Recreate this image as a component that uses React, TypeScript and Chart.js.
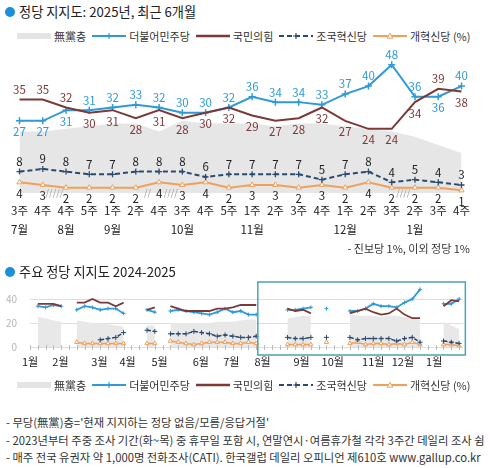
import React, { useEffect, useRef } from 'react';
import { Chart, registerables } from 'chart.js';

Chart.register(...registerables);

const FONT = '"Noto Sans CJK KR", "Noto Sans", sans-serif';
const COLORS = {
  noParty: '#e6e6e6',
  dem: '#2e9ad8',
  ppp: '#7d3838',
  rebuild: '#2c4a70',
  reform: '#f0a05a',
  text: '#222',
};

// ---------- Top chart: last 6 months ----------
const weekLabels = ['3주', '4주', '4주', '5주', '1주', '2주', '4주', '3주', '4주', '5주', '1주', '2주', '3주', '4주', '1주', '2주', '3주', '2주', '3주', '4주'];
const monthLabels = ['7월', '', '8월', '', '9월', '', '', '10월', '', '', '11월', '', '', '', '12월', '', '', '1월', '', ''];
const noPartyRecent = [23, 23, 24, 25, 26, 26, 23, 27, 26, 26, 26, 25, 26, 26, 25, 24, 23, 21, 18, 15];
const demRecent = [27, 27, 31, 31, 32, 33, 32, 30, 30, 32, 36, 34, 34, 33, 37, 40, 48, 36, 36, 40];
const pppRecent = [35, 35, 32, 30, 31, 28, 31, 28, 30, 32, 29, 27, 28, 32, 27, 24, 24, 34, 39, 38];
const rebuildRecent = [8, 9, 8, 7, 7, 8, 8, 8, 6, 7, 7, 7, 7, 5, 7, 8, 4, 5, 4, 3];
const reformRecent = [4, 3, 2, 2, 2, 2, 4, 3, 4, 2, 3, 3, 2, 3, 2, 4, 2, 2, 2, 1];
const gapAfter = [1, 5, 6, 16];
const gapText = ['/////', '//', '////', '////'];

// ---------- Bottom chart: 2024-2025 weekly ----------
const earlyNoParty = [null, 25, 24, 22, 21, null, 22, 21, 20, 20, 19, 18, 17, null, null, 18, 18, null, 20, 20, 20, 20, 20, 20, 21, 21, 21, 22];
const earlyDem = [null, 34, 33, 35, 34, null, 31, 34, 33, 31, 32, 32, 28, null, null, 31, 29, null, 30, 31, 30, 29, 28, 27, 29, 32, 29, 30];
const earlyPpp = [null, 36, 36, 36, 34, null, 37, 37, 40, 37, 37, 34, 37, null, null, 31, 33, null, 34, 32, 30, 30, 30, 30, 32, 32, 33, 35];
const earlyRebuild = [null, null, null, null, null, null, null, null, null, 6, 7, 8, 12, null, null, 14, 13, null, 11, 11, 11, 13, 12, 11, 9, 10, 9, 8];
const earlyReform = [null, null, null, null, null, null, 4, 3, 3, 3, 3, 3, 3, null, null, 3, 3, null, 5, 4, 3, 2, 3, 4, 4, 4, 3, 3];
const recentWeekNumbers = [28, 29, 33, 34, 35, 36, 38, 41, 42, 43, 44, 45, 46, 47, 48, 49, 50, 53, 54, 55];
const monthTickWeeks = [0, 3.9, 8.9, 12.5, 16.6, 21.9, 25.8, 29.8, 34.8, 38.8, 44, 47.8, 51.8];
const monthTickLabels = ['1월', '2월', '3월', '4월', '5월', '6월', '7월', '8월', '9월', '10월', '11월', '12월', '1월'];
const yGridValues = [0, 20, 40];
const highlightWeeks = [29.2, 55.8];

const legendLabels = ['無黨층', '더불어민주당', '국민의힘', '조국혁신당', '개혁신당 (%)'];
const footnotes = [
  "- 무당(無黨)층='현재 지지하는 정당 없음/모름/응답거절'",
  '- 2023년부터 주중 조사 기간(화~목) 중 휴무일 포함 시, 연말연시·여름휴가철 각각 3주간 데일리 조사 쉼',
  '- 매주 전국 유권자 약 1,000명 전화조사(CATI). 한국갤럽 데일리 오피니언 제610호 www.gallup.co.kr',
];

const LAST_WEEK = recentWeekNumbers[recentWeekNumbers.length - 1];

function weekly(early: (number | null)[], recent: number[]) {
  const out: { x: number; y: number | null }[] = [];
  for (let w = 0; w <= LAST_WEEK; w++) out.push({ x: w, y: null });
  early.forEach((v, i) => { out[i].y = v; });
  recent.forEach((v, i) => { out[recentWeekNumbers[i]].y = v; });
  return out;
}

const topLabelsPlugin = {
  id: 'topLabels',
  afterDatasetsDraw(chart: any) {
    const { ctx, chartArea, scales } = chart;
    const x = scales.x, y = scales.y;
    ctx.save();
    ctx.textAlign = 'center';
    ctx.textBaseline = 'middle';
    ctx.font = `11.5px ${FONT}`;
    const lab = (v: number, i: number, above: boolean, color: string) => {
      const px = x.getPixelForValue(i);
      const py = y.getPixelForValue(v);
      ctx.fillStyle = color;
      ctx.fillText(String(v), px, above ? py - 10 : py + 11);
    };
    for (let i = 0; i < weekLabels.length; i++) {
      const demAbove = demRecent[i] >= pppRecent[i];
      lab(demRecent[i], i, demAbove, COLORS.dem);
      lab(pppRecent[i], i, !demAbove, COLORS.ppp);
      lab(rebuildRecent[i], i, true, COLORS.text);
      lab(reformRecent[i], i, false, COLORS.text);
    }
    ctx.fillStyle = COLORS.text;
    weekLabels.forEach((t, i) => ctx.fillText(t, x.getPixelForValue(i), chartArea.bottom + 18));
    monthLabels.forEach((t, i) => { if (t) ctx.fillText(t, x.getPixelForValue(i), chartArea.bottom + 37); });
    ctx.font = `9px ${FONT}`;
    ctx.fillStyle = '#9a9a9a';
    gapAfter.forEach((a, k) => {
      const px = (x.getPixelForValue(a) + x.getPixelForValue(a + 1)) / 2;
      ctx.fillText(gapText[k], px, y.getPixelForValue(0));
    });
    ctx.restore();
  },
};

const bottomPlugin = {
  id: 'bottomDecor',
  beforeDatasetsDraw(chart: any) {
    const { ctx, chartArea, scales } = chart;
    const y = scales.y;
    ctx.save();
    ctx.strokeStyle = '#dddddd';
    ctx.lineWidth = 1;
    yGridValues.forEach((v) => {
      const py = Math.round(y.getPixelForValue(v)) + 0.5;
      ctx.beginPath();
      ctx.moveTo(chartArea.left, py);
      ctx.lineTo(chartArea.right, py);
      ctx.stroke();
    });
    ctx.restore();
  },
  afterDraw(chart: any) {
    const { ctx, chartArea, scales } = chart;
    const x = scales.x, y = scales.y;
    ctx.save();
    ctx.strokeStyle = '#bbbbbb';
    ctx.lineWidth = 1;
    for (let w = 0; w <= LAST_WEEK; w++) {
      const px = Math.round(x.getPixelForValue(w)) + 0.5;
      ctx.beginPath();
      ctx.moveTo(px, chartArea.bottom - 2);
      ctx.lineTo(px, chartArea.bottom + 3);
      ctx.stroke();
    }
    ctx.font = `10px ${FONT}`;
    ctx.fillStyle = '#b5b5b5';
    ctx.textAlign = 'right';
    ctx.textBaseline = 'middle';
    yGridValues.forEach((v) => ctx.fillText(String(v), chartArea.left - 13, y.getPixelForValue(v)));
    ctx.font = `11px ${FONT}`;
    ctx.fillStyle = COLORS.text;
    ctx.textAlign = 'center';
    monthTickWeeks.forEach((w, i) => ctx.fillText(monthTickLabels[i], x.getPixelForValue(w), chartArea.bottom + 15));
    ctx.strokeStyle = '#4aa5ad';
    ctx.lineWidth = 1.5;
    const l = x.getPixelForValue(highlightWeeks[0]);
    const r = x.getPixelForValue(highlightWeeks[1]);
    ctx.strokeRect(l, chartArea.top - 5, r - l, chartArea.bottom - chartArea.top + 13);
    ctx.restore();
  },
};

function TopChart() {
  const ref = useRef<HTMLCanvasElement>(null);
  useEffect(() => {
    const chart = new Chart(ref.current as HTMLCanvasElement, {
      type: 'line',
      data: {
        labels: weekLabels,
        datasets: [
          { label: legendLabels[0], data: noPartyRecent, fill: 'origin', backgroundColor: COLORS.noParty, borderColor: 'transparent', borderWidth: 0, pointRadius: 0, order: 10 },
          { label: legendLabels[1], data: demRecent, borderColor: COLORS.dem, borderWidth: 2, pointStyle: 'cross', pointRadius: 3.5, pointBorderColor: COLORS.dem, pointBorderWidth: 1.5, fill: false, order: 2 },
          { label: legendLabels[2], data: pppRecent, borderColor: COLORS.ppp, borderWidth: 2, pointRadius: 0, fill: false, order: 1 },
          { label: legendLabels[3], data: rebuildRecent, borderColor: COLORS.rebuild, borderDash: [5, 3], borderWidth: 2, pointStyle: 'cross', pointRadius: 3, pointBorderColor: COLORS.rebuild, pointBorderWidth: 1.3, fill: false, order: 3 },
          { label: legendLabels[4], data: reformRecent, borderColor: COLORS.reform, borderWidth: 2, pointStyle: 'triangle', pointRadius: 3, pointBackgroundColor: '#ffffff', pointBorderColor: COLORS.reform, pointBorderWidth: 1, fill: false, order: 4 },
        ] as any,
      },
      options: {
        animation: false,
        responsive: false,
        events: [],
        layout: { padding: { left: 19.5, right: 28.5, top: 6, bottom: 62 }, autoPadding: false } as any,
        scales: {
          x: { type: 'category', display: false, offset: false },
          y: { display: false, min: 0, max: 55 },
        },
        plugins: { legend: { display: false }, tooltip: { enabled: false } },
        elements: { line: { tension: 0 } },
      },
      plugins: [topLabelsPlugin],
    });
    return () => chart.destroy();
  }, []);
  return <canvas ref={ref} width={490} height={215} style={{ position: 'absolute', left: 0, top: 40 }} />;
}

function BottomChart() {
  const ref = useRef<HTMLCanvasElement>(null);
  useEffect(() => {
    const common = { fill: false, spanGaps: false, clip: false as any };
    const chart = new Chart(ref.current as HTMLCanvasElement, {
      type: 'line',
      data: {
        datasets: [
          { label: legendLabels[0], data: weekly(earlyNoParty, noPartyRecent), fill: 'origin', spanGaps: false, backgroundColor: '#e8e8e8', borderColor: 'transparent', borderWidth: 0, pointRadius: 0, order: 10 },
          { ...common, label: legendLabels[1], data: weekly(earlyDem, demRecent), borderColor: COLORS.dem, borderWidth: 1.8, pointStyle: 'cross', pointRadius: 2, pointBorderColor: COLORS.dem, pointBorderWidth: 1, order: 2 },
          { ...common, label: legendLabels[2], data: weekly(earlyPpp, pppRecent), borderColor: COLORS.ppp, borderWidth: 1.8, pointRadius: 0, order: 1 },
          { ...common, label: legendLabels[3], data: weekly(earlyRebuild, rebuildRecent), borderColor: COLORS.rebuild, borderDash: [4, 2], borderWidth: 1.5, pointStyle: 'cross', pointRadius: 2.5, pointBorderColor: COLORS.rebuild, pointBorderWidth: 1, order: 3 },
          { ...common, label: legendLabels[4], data: weekly(earlyReform, reformRecent), borderColor: COLORS.reform, borderWidth: 1.5, pointStyle: 'triangle', pointRadius: 2.5, pointBackgroundColor: '#ffffff', pointBorderColor: COLORS.reform, pointBorderWidth: 1, order: 4 },
        ] as any,
      },
      options: {
        animation: false,
        responsive: false,
        events: [],
        layout: { padding: { left: 30, right: 27, top: 7, bottom: 25 }, autoPadding: false } as any,
        scales: {
          x: { type: 'linear', display: false, min: 0, max: LAST_WEEK + 0.5 },
          y: { display: false, min: 0, max: 50 },
        },
        plugins: { legend: { display: false }, tooltip: { enabled: false } },
        elements: { line: { tension: 0 } },
      },
      plugins: [bottomPlugin],
    });
    return () => chart.destroy();
  }, []);
  return <canvas ref={ref} width={490} height={92} style={{ position: 'absolute', left: 0, top: 280 }} />;
}

function Swatch({ kind }: { kind: number }) {
  const W = 34;
  if (kind === 0) {
    return <svg width={W} height={10}><rect x={0} y={2} width={W} height={6} fill="#e4e4e4" /></svg>;
  }
  if (kind === 1) {
    return (
      <svg width={W} height={10}>
        <line x1={0} y1={5} x2={W} y2={5} stroke={COLORS.dem} strokeWidth={2} />
        <path d="M17 2 V8 M14 5 H20" stroke={COLORS.dem} strokeWidth={1.2} />
      </svg>
    );
  }
  if (kind === 2) {
    return <svg width={W} height={10}><line x1={0} y1={5} x2={W} y2={5} stroke={COLORS.ppp} strokeWidth={2.4} /></svg>;
  }
  if (kind === 3) {
    return (
      <svg width={W} height={10}>
        <line x1={0} y1={5} x2={W} y2={5} stroke={COLORS.rebuild} strokeWidth={2} strokeDasharray="5,3" />
        <path d="M17 2 V8 M14 5 H20" stroke={COLORS.rebuild} strokeWidth={1.2} />
      </svg>
    );
  }
  return (
    <svg width={W} height={10}>
      <line x1={0} y1={5} x2={W} y2={5} stroke={COLORS.reform} strokeWidth={2} />
      <path d="M17 2.2 L19.8 7.2 L14.2 7.2 Z" fill="#fff" stroke={COLORS.reform} strokeWidth={1} />
    </svg>
  );
}

function LegendRow({ cy }: { cy: number }) {
  return (
    <div style={{ position: 'absolute', left: 17, top: cy - 8, height: 16, display: 'flex', alignItems: 'center', fontFamily: FONT, fontSize: 11, color: '#333', whiteSpace: 'nowrap' }}>
      {legendLabels.map((t, i) => (
        <div key={i} style={{ display: 'flex', alignItems: 'center', marginRight: 6 }}>
          <Swatch kind={i} />
          <span style={{ marginLeft: 3 }}>{t}</span>
        </div>
      ))}
    </div>
  );
}

function Title({ cy, text }: { cy: number; text: string }) {
  return (
    <>
      <div style={{ position: 'absolute', left: 5, top: cy - 5, width: 10, height: 10, borderRadius: '50%', background: '#1a90db' }} />
      <div style={{ position: 'absolute', left: 19, top: cy - 10, height: 20, lineHeight: '20px', fontFamily: FONT, fontSize: 13.2, color: '#222', whiteSpace: 'nowrap' }}>{text}</div>
    </>
  );
}

export default function App() {
  return (
    <div style={{ position: 'absolute', left: 0, top: 0, width: 490, height: 468, overflow: 'hidden', background: '#fff' }}>
      <Title cy={12} text="정당 지지도: 2025년, 최근 6개월" />
      <LegendRow cy={36} />
      <TopChart />
      <div style={{ position: 'absolute', right: 20, top: 240, height: 16, lineHeight: '16px', fontFamily: FONT, fontSize: 11, color: '#333', whiteSpace: 'nowrap' }}>
        - 진보당 1%, 이외 정당 1%
      </div>
      <Title cy={272} text="주요 정당 지지도 2024-2025" />
      <BottomChart />
      <LegendRow cy={385} />
      {footnotes.map((t, i) => (
        <div key={i} style={{ position: 'absolute', left: 6, top: 414 + i * 17.5, height: 16, lineHeight: '16px', fontFamily: FONT, fontSize: 11.3, color: '#333', whiteSpace: 'nowrap' }}>
          {t}
        </div>
      ))}
    </div>
  );
}
